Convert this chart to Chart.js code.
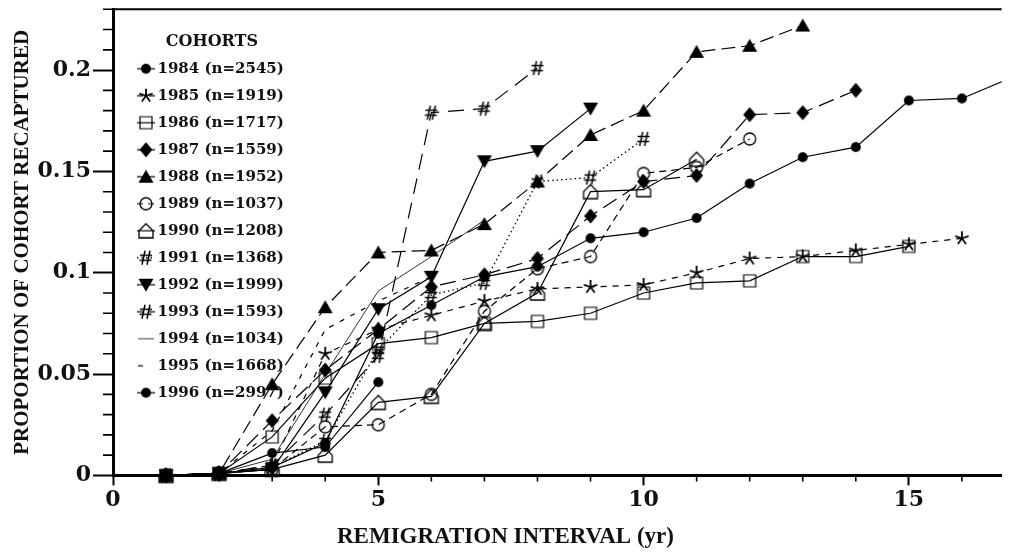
<!DOCTYPE html>
<html lang="en">
<head>
<meta charset="UTF-8">
<title>Proportion of cohort recaptured</title>
<script src="https://cdn.jsdelivr.net/npm/chart.js"></script>
<style>
  body { margin: 0; background: #fff; }
  #wrap { width: 1011px; height: 553px; }
</style>
</head>
<body>
<div id="wrap"><canvas id="chart"></canvas></div>
<script>
// remigration interval (yr) for each value position
const interval = [1, 2, 3, 4, 5, 6, 7, 8, 9, 10, 11, 12, 13, 14, 15, 16, 17];

const cohorts = [
  '1984 (n=2545)', '1985 (n=1919)', '1986 (n=1717)', '1987 (n=1559)',
  '1988 (n=1952)', '1989 (n=1037)', '1990 (n=1208)', '1991 (n=1368)',
  '1992 (n=1999)', '1993 (n=1593)', '1994 (n=1034)', '1995 (n=1668)',
  '1996 (n=2997)'
];

// proportion recaptured
const c1984 = [0, 0.001, 0.004, 0.016, 0.070, 0.084, 0.098, 0.103, 0.117, 0.120, 0.127, 0.144, 0.157, 0.162, 0.185, 0.186, 0.197];
const c1985 = [0, 0.001, 0.005, 0.060, 0.072, 0.079, 0.086, 0.092, 0.093, 0.094, 0.100, 0.107, 0.108, 0.111, 0.114, 0.117];
const c1986 = [0, 0.001, 0.019, 0.048, 0.065, 0.068, 0.075, 0.076, 0.080, 0.090, 0.095, 0.096, 0.108, 0.108, 0.113];
const c1987 = [0, 0.001, 0.027, 0.052, 0.072, 0.093, 0.099, 0.107, 0.128, 0.145, 0.148, 0.178, 0.179, 0.190];
const c1988 = [0, 0.001, 0.045, 0.083, 0.110, 0.111, 0.124, 0.145, 0.168, 0.180, 0.209, 0.212, 0.222];
const c1989 = [0, 0.001, 0.003, 0.024, 0.025, 0.040, 0.081, 0.102, 0.108, 0.149, 0.152, 0.166];
const c1990 = [0, 0.001, 0.003, 0.010, 0.036, 0.039, 0.075, 0.090, 0.140, 0.141, 0.156];
const c1991 = [0, 0.001, 0.004, 0.017, 0.062, 0.089, 0.095, 0.145, 0.147, 0.166];
const c1992 = [0, 0.001, 0.003, 0.041, 0.082, 0.098, 0.155, 0.160, 0.181];
const c1993 = [0, 0.001, 0.005, 0.030, 0.059, 0.179, 0.181, 0.201];
const c1994 = [0, 0.001, 0.008, 0.050, 0.091, 0.108, 0.126];
const c1995 = [0, 0.001, 0.022, 0.072, 0.086, 0.098];
const c1996 = [0, 0.001, 0.011, 0.014, 0.046];

const series = [c1984, c1985, c1986, c1987, c1988, c1989, c1990, c1991, c1992, c1993, c1994, c1995, c1996];

const xTickValues = [0, 5, 10, 15];
const yTickValues = [0, 0.05, 0.1, 0.15, 0.2];

// marker / line look for each cohort
const markers = ['dot', 'star', 'square', 'diamond', 'tri', 'ring', 'house', 'hash', 'dtri', 'hash', null, null, 'dot'];
const dashes = [[], [6, 6], [], [16, 7], [14, 6], [7, 5], [], [1.5, 3], [], [16, 9], [], [5, 7], []];
const widths = [1.2, 1.2, 1.2, 1.2, 1.2, 1.2, 1.2, 1.3, 1.2, 1.2, 0.8, 1.2, 1.2];

function drawMarker(g, type, cx, cy) {
  g.save();
  g.setLineDash([]);
  g.fillStyle = '#000';
  g.strokeStyle = '#000';
  g.beginPath();
  if (type === 'dot') {
    g.arc(cx, cy, 5, 0, Math.PI * 2);
    g.fill();
  } else if (type === 'ring') {
    g.lineWidth = 1.3;
    g.arc(cx, cy, 6, 0, Math.PI * 2);
    g.stroke();
  } else if (type === 'square') {
    g.lineWidth = 1.2;
    g.rect(cx - 6, cy - 6, 12, 12);
    g.stroke();
  } else if (type === 'diamond') {
    g.moveTo(cx, cy - 7.5); g.lineTo(cx + 6.5, cy); g.lineTo(cx, cy + 7.5); g.lineTo(cx - 6.5, cy);
    g.closePath(); g.fill();
  } else if (type === 'tri') {
    g.moveTo(cx - 7.5, cy + 6); g.lineTo(cx + 7.5, cy + 6); g.lineTo(cx, cy - 7);
    g.closePath(); g.fill();
  } else if (type === 'dtri') {
    g.moveTo(cx - 7.5, cy - 6); g.lineTo(cx + 7.5, cy - 6); g.lineTo(cx, cy + 7);
    g.closePath(); g.fill();
  } else if (type === 'house') {
    g.lineWidth = 1.3;
    g.moveTo(cx - 7, cy + 7); g.lineTo(cx + 7, cy + 7); g.lineTo(cx + 7, cy);
    g.lineTo(cx, cy - 7); g.lineTo(cx - 7, cy); g.closePath(); g.stroke();
  } else if (type === 'star') {
    g.lineWidth = 1.8;
    for (let k = 0; k < 5; k++) {
      const a = (-90 + 72 * k) * Math.PI / 180;
      g.moveTo(cx, cy);
      g.lineTo(cx + 7 * Math.cos(a), cy + 7 * Math.sin(a));
    }
    g.stroke();
  } else if (type === 'hash') {
    g.lineWidth = 1.5;
    g.moveTo(cx - 4, cy + 7); g.lineTo(cx - 1, cy - 7);
    g.moveTo(cx + 1, cy + 7); g.lineTo(cx + 4, cy - 7);
    g.moveTo(cx - 6, cy - 2.5); g.lineTo(cx + 6, cy - 2.5);
    g.moveTo(cx - 6.5, cy + 2.5); g.lineTo(cx + 5.5, cy + 2.5);
    g.stroke();
  }
  g.restore();
}

function pointCanvas(type) {
  const c = document.createElement('canvas');
  c.width = 18; c.height = 18;
  drawMarker(c.getContext('2d'), type, 9, 9);
  return c;
}

// legend icon: short piece of the line with the marker on it
function legendCanvas(i) {
  const c = document.createElement('canvas');
  c.width = 22; c.height = 16;
  const g = c.getContext('2d');
  g.strokeStyle = '#000';
  g.lineWidth = widths[i];
  g.setLineDash(dashes[i].length ? dashes[i].map(d => Math.min(d, 6)) : []);
  g.beginPath();
  if (markers[i]) { g.moveTo(2, 8); g.lineTo(20, 8); }
  else if (dashes[i].length) { g.moveTo(3, 8); g.lineTo(10, 8); }
  else { g.moveTo(3, 8); g.lineTo(19, 8); }
  g.stroke();
  if (markers[i]) drawMarker(g, markers[i], 11, 8);
  return c;
}

const legendIcons = cohorts.map((_, i) => legendCanvas(i));

const datasets = cohorts.map((name, i) => ({
  label: name,
  data: series[i].map((v, j) => ({ x: interval[j], y: v })),
  borderColor: '#000',
  backgroundColor: '#000',
  borderWidth: widths[i],
  borderDash: dashes[i],
  pointStyle: markers[i] ? pointCanvas(markers[i]) : 'line',
  pointRadius: markers[i] ? 8 : 0,
  fill: false,
  tension: 0,
  clip: { left: 12, top: 12, right: 0, bottom: 12 }
}));

// minor ticks and the top frame line
const frame = {
  id: 'frame',
  afterDraw(chart) {
    const { ctx, chartArea, scales } = chart;
    ctx.save();
    ctx.strokeStyle = '#000';
    ctx.lineWidth = 1.6;
    ctx.beginPath();
    for (let k = 1; k <= 23; k++) {
      if (k % 5 === 0) continue;
      const py = scales.y.getPixelForValue(k / 100);
      ctx.moveTo(chartArea.left - 10, py);
      ctx.lineTo(chartArea.left, py);
    }
    for (let k = 1; k <= 16; k++) {
      if (k % 5 === 0) continue;
      const px = scales.x.getPixelForValue(k);
      ctx.moveTo(px, chartArea.bottom);
      ctx.lineTo(px, chartArea.bottom + 6);
    }
    ctx.stroke();
    ctx.lineWidth = 2;
    ctx.beginPath();
    ctx.moveTo(chartArea.left, chartArea.top);
    ctx.lineTo(chartArea.right, chartArea.top);
    ctx.stroke();
    ctx.restore();
  }
};

// nudge the in-plot legend to the right
const legendShift = {
  id: 'legendShift',
  afterLayout(chart) {
    if (chart.legend) {
      chart.legend.left += 17;
      chart.legend.right += 17;
    }
  }
};

Chart.defaults.font.family = 'DejaVu Serif';
Chart.defaults.font.weight = 'bold';
Chart.defaults.color = '#111';

new Chart(document.getElementById('chart'), {
  type: 'line',
  data: { datasets: datasets },
  options: {
    responsive: true,
    maintainAspectRatio: false,
    animation: false,
    events: [],
    layout: { padding: { top: 6, right: 0, left: 0, bottom: 0 } },
    scales: {
      x: {
        type: 'linear',
        min: 0,
        max: 16.75,
        afterBuildTicks(scale) { scale.ticks = xTickValues.map(v => ({ value: v })); },
        afterFit(scale) { scale.height = 48; },
        ticks: { font: { size: 22, weight: 'bold' }, padding: 2, color: '#111' },
        grid: { drawOnChartArea: false, color: '#000', tickLength: 10, tickWidth: 2 },
        border: { display: true, color: '#000', width: 3 }
      },
      y: {
        min: 0,
        max: 0.23,
        afterBuildTicks(scale) { scale.ticks = yTickValues.map(v => ({ value: v })); },
        afterFit(scale) { scale.width = 113; scale.paddingTop = 0; },
        ticks: {
          font: { size: 22, weight: 'bold' },
          padding: 2,
          color: '#111',
          callback: (v) => String(Number(v.toFixed(2)))
        },
        grid: { drawOnChartArea: false, color: '#000', tickLength: 20, tickWidth: 2 },
        border: { display: true, color: '#000', width: 3 },
        title: {
          display: true,
          text: 'PROPORTION OF COHORT RECAPTURED',
          font: { family: 'Liberation Serif', size: 21, weight: 'bold' },
          padding: { top: 10, bottom: 0 },
          color: '#111'
        }
      }
    },
    plugins: {
      tooltip: { enabled: false },
      title: {
        display: true,
        position: 'bottom',
        text: 'REMIGRATION INTERVAL (yr)',
        font: { family: 'Liberation Serif', size: 23, weight: 'bold' },
        padding: { top: 0, bottom: 2 },
        color: '#111'
      },
      legend: {
        position: 'chartArea',
        align: 'start',
        title: {
          display: true,
          text: 'COHORTS',
          font: { size: 16, weight: 'bold' },
          padding: { top: 34, bottom: -4 },
          color: '#111'
        },
        labels: {
          usePointStyle: true,
          boxWidth: 8,
          boxHeight: 15,
          padding: 12,
          font: { size: 15, weight: 'bold' },
          color: '#111',
          generateLabels(chart) {
            const items = Chart.defaults.plugins.legend.labels.generateLabels(chart);
            items.forEach(it => { it.pointStyle = legendIcons[it.datasetIndex]; });
            return items;
          }
        }
      }
    }
  },
  plugins: [frame, legendShift]
});
</script>
</body>
</html>
